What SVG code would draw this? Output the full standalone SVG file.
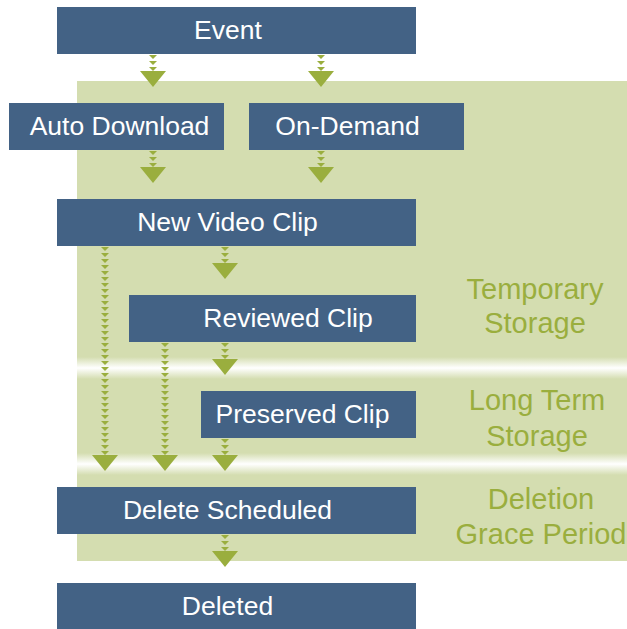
<svg xmlns="http://www.w3.org/2000/svg" width="627" height="629" viewBox="0 0 627 629">
<style>
.box{fill:#436285}
.lbl{fill:#ffffff;font-family:"Liberation Sans",Arial,sans-serif;font-size:26.5px;text-anchor:middle;dominant-baseline:central}
.zone{fill:#9aae3e;font-family:"Liberation Sans",Arial,sans-serif;font-size:29px;text-anchor:middle}
.head{fill:#9aae3e}
.stem{fill:#9aae3e}
</style>
<defs>
<linearGradient id="band" x1="0" y1="0" x2="0" y2="1">
<stop offset="0" stop-color="#d4ddb0"/>
<stop offset="0.5" stop-color="#ffffff"/>
<stop offset="1" stop-color="#d4ddb0"/>
</linearGradient>
<path id="s3" class="stem" d="M-4,1 h8 l-4,4 z m0,6 h8 l-4,4 z m0,6 h8 l-4,4 z"/>
<polygon id="hd" class="head" points="-13,0 13,0 0,16"/>
</defs>
<g id="background">
<rect x="77" y="81" width="550" height="480" fill="#d4ddb0"/>
<rect x="77" y="357" width="550" height="22" fill="url(#band)"/>
<rect x="77" y="453" width="550" height="22" fill="url(#band)"/>
<text class="zone" x="535" y="299">Temporary</text>
<text class="zone" x="535" y="333">Storage</text>
<text class="zone" x="537" y="410">Long Term</text>
<text class="zone" x="537" y="446">Storage</text>
<text class="zone" x="541" y="509">Deletion</text>
<text class="zone" x="541" y="544">Grace Period</text>
</g>
<g id="connectors">
<g transform="translate(153,54)"><use href="#s3"/><use href="#hd" y="17"/></g>
<g transform="translate(321,54)"><use href="#s3"/><use href="#hd" y="17"/></g>
<g transform="translate(153,150)"><use href="#s3"/><use href="#hd" y="17"/></g>
<g transform="translate(321,150)"><use href="#s3"/><use href="#hd" y="17"/></g>
<g transform="translate(225,246)"><use href="#s3"/><use href="#hd" y="17"/></g>
<g transform="translate(225,342)"><use href="#s3"/><use href="#hd" y="17"/></g>
<g transform="translate(225,438)"><use href="#s3"/><use href="#hd" y="17"/></g>
<g transform="translate(225,534)"><use href="#s3"/><use href="#hd" y="17"/></g>
<g transform="translate(105,246)"><path class="stem" d="M-4,1 h8 l-4,4 z m0,6 h8 l-4,4 z m0,6 h8 l-4,4 z m0,6 h8 l-4,4 z m0,6 h8 l-4,4 z m0,6 h8 l-4,4 z m0,6 h8 l-4,4 z m0,6 h8 l-4,4 z m0,6 h8 l-4,4 z m0,6 h8 l-4,4 z m0,6 h8 l-4,4 z m0,6 h8 l-4,4 z m0,6 h8 l-4,4 z m0,6 h8 l-4,4 z m0,6 h8 l-4,4 z m0,6 h8 l-4,4 z m0,6 h8 l-4,4 z m0,6 h8 l-4,4 z m0,6 h8 l-4,4 z m0,6 h8 l-4,4 z m0,6 h8 l-4,4 z m0,6 h8 l-4,4 z m0,6 h8 l-4,4 z m0,6 h8 l-4,4 z m0,6 h8 l-4,4 z m0,6 h8 l-4,4 z m0,6 h8 l-4,4 z m0,6 h8 l-4,4 z m0,6 h8 l-4,4 z m0,6 h8 l-4,4 z m0,6 h8 l-4,4 z m0,6 h8 l-4,4 z m0,6 h8 l-4,4 z m0,6 h8 l-4,4 z m0,6 h8 l-4,4 z"/><use href="#hd" y="209"/></g>
<g transform="translate(165,342)"><path class="stem" d="M-4,1 h8 l-4,4 z m0,6 h8 l-4,4 z m0,6 h8 l-4,4 z m0,6 h8 l-4,4 z m0,6 h8 l-4,4 z m0,6 h8 l-4,4 z m0,6 h8 l-4,4 z m0,6 h8 l-4,4 z m0,6 h8 l-4,4 z m0,6 h8 l-4,4 z m0,6 h8 l-4,4 z m0,6 h8 l-4,4 z m0,6 h8 l-4,4 z m0,6 h8 l-4,4 z m0,6 h8 l-4,4 z m0,6 h8 l-4,4 z m0,6 h8 l-4,4 z m0,6 h8 l-4,4 z m0,6 h8 l-4,4 z"/><use href="#hd" y="113"/></g>
</g>
<g id="event"><rect class="box" x="57" y="7" width="359" height="47"/><text class="lbl" x="228" y="30">Event</text></g>
<g id="auto-download"><rect class="box" x="9" y="103" width="215" height="47"/><text class="lbl" x="119.5" y="126">Auto Download</text></g>
<g id="on-demand"><rect class="box" x="249" y="103" width="215" height="47"/><text class="lbl" x="347.5" y="126">On-Demand</text></g>
<g id="new-video-clip"><rect class="box" x="57" y="199" width="359" height="47"/><text class="lbl" x="227.5" y="222">New Video Clip</text></g>
<g id="reviewed-clip"><rect class="box" x="129" y="295" width="287" height="47"/><text class="lbl" x="288" y="318">Reviewed Clip</text></g>
<g id="preserved-clip"><rect class="box" x="201" y="391" width="215" height="47"/><text class="lbl" x="302.5" y="414">Preserved Clip</text></g>
<g id="delete-scheduled"><rect class="box" x="57" y="487" width="359" height="47"/><text class="lbl" x="227.5" y="510">Delete Scheduled</text></g>
<g id="deleted"><rect class="box" x="57" y="583" width="359" height="46"/><text class="lbl" x="227.5" y="606">Deleted</text></g>
</svg>
